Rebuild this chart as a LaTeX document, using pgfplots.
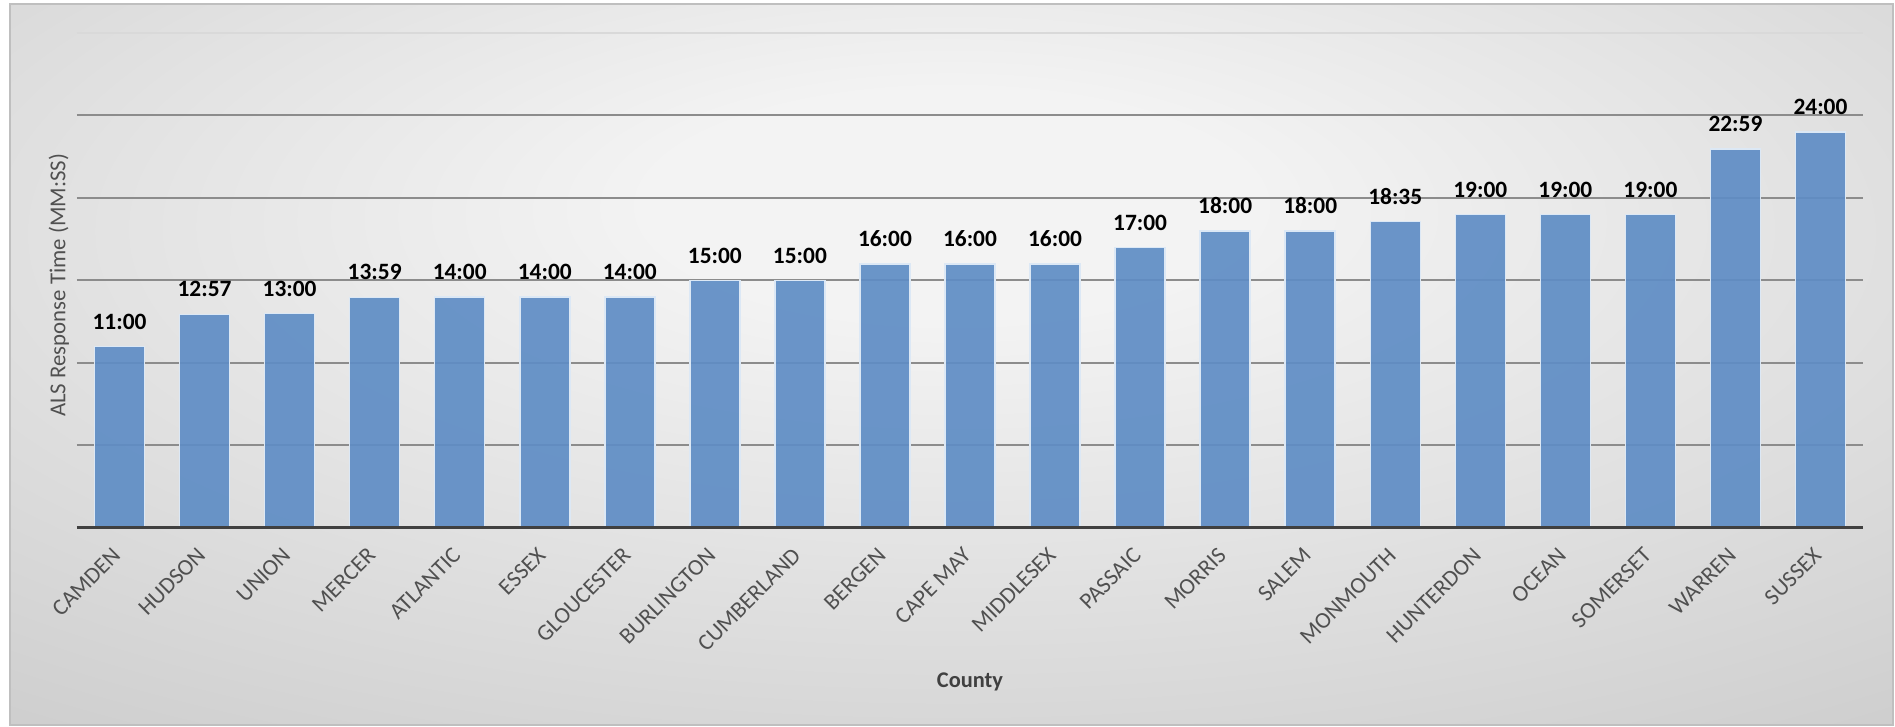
\documentclass[border=0pt]{standalone}
\usepackage{pgfplots}
\pgfplotsset{compat=1.18}
\usepackage{pgfplotstable}
\usepackage{fontspec}
\setmainfont{Carlito}
\definecolor{barfill}{HTML}{5F8DC5}
\definecolor{baredge}{HTML}{DCE8F5}
\definecolor{gridc}{HTML}{8C8C8C}
\definecolor{txtgray}{HTML}{505050}
\definecolor{bgin}{HTML}{F3F3F3}
\definecolor{bgout}{HTML}{C4C4C4}
\pgfdeclareradialshading{bgshade}{\pgfpoint{0bp}{12bp}}{color(0bp)=(bgin); color(8bp)=(bgin); color(50bp)=(bgout); color(100bp)=(bgout)}
\pgfplotstableread{
x val lab
0 11 11:00
1 12.95 12:57
2 13 13:00
3 13.983 13:59
4 14 14:00
5 14 14:00
6 14 14:00
7 15 15:00
8 15 15:00
9 16 16:00
10 16 16:00
11 16 16:00
12 17 17:00
13 18 18:00
14 18 18:00
15 18.583 18:35
16 19 19:00
17 19 19:00
18 19 19:00
19 22.983 22:59
20 24 24:00
}\data
\begin{document}
\begin{tikzpicture}[x=1pt,y=1pt]
\useasboundingbox (0,0) rectangle (947.5,363.5);
\shade[shading=bgshade] (5,1) rectangle (946.5,361.5);
\draw[gray!50, line width=0.8pt] (5,1) rectangle (946.5,361.5);
\begin{axis}[
  at={(38.5pt,99.5pt)}, anchor=south west,
  scale only axis, width=893pt, height=247.5pt,
  xmin=-0.5, xmax=20.5, ymin=0, ymax=30,
  axis x line*=bottom, axis y line*=left,
  y axis line style={draw=none},
  x axis line style={draw=none},
  major tick length=0pt,
  ytick={5,10,15,20,25}, yticklabels={},
  extra y ticks={30}, extra y tick labels={},
  extra y tick style={grid style={gray!30, line width=1pt}},
  ymajorgrids, grid style={gridc, line width=1pt},
  xtick={0,...,20},
  xticklabels={CAMDEN,HUDSON,UNION,MERCER,ATLANTIC,ESSEX,GLOUCESTER,BURLINGTON,CUMBERLAND,BERGEN,{CAPE MAY},MIDDLESEX,PASSAIC,MORRIS,SALEM,MONMOUTH,HUNTERDON,OCEAN,SOMERSET,WARREN,SUSSEX},
  xticklabel style={rotate=45, anchor=north east, font=\fontsize{11.5}{13}\selectfont, color=txtgray, yshift=0pt, xshift=-6pt},
  xlabel={County},
  xlabel style={at={(axis description cs:0.5,-0.311)}, anchor=center, font=\fontsize{11.2}{13}\selectfont\bfseries, color=black!75},
  ylabel={ALS Response Time (MM:SS)},
  ylabel style={at={(axis description cs:-0.0101,0.49)}, anchor=center, font=\fontsize{11.4}{13}\selectfont, color=txtgray},
  clip=false,
]
\addplot[ybar, bar width=25pt, fill=barfill, fill opacity=0.92, draw=baredge, line width=0.75pt,
  nodes near coords, point meta=explicit symbolic,
  nodes near coords style={font=\fontsize{11.7}{14}\selectfont\bfseries, text=black, anchor=center, yshift=12.5pt, text opacity=1, fill opacity=1}]
  table[x=x, y=val, meta=lab]{\data};
\draw[line width=1.5pt, black!75] (rel axis cs:0,0) -- (rel axis cs:1,0);
\end{axis}
\end{tikzpicture}
\end{document}
